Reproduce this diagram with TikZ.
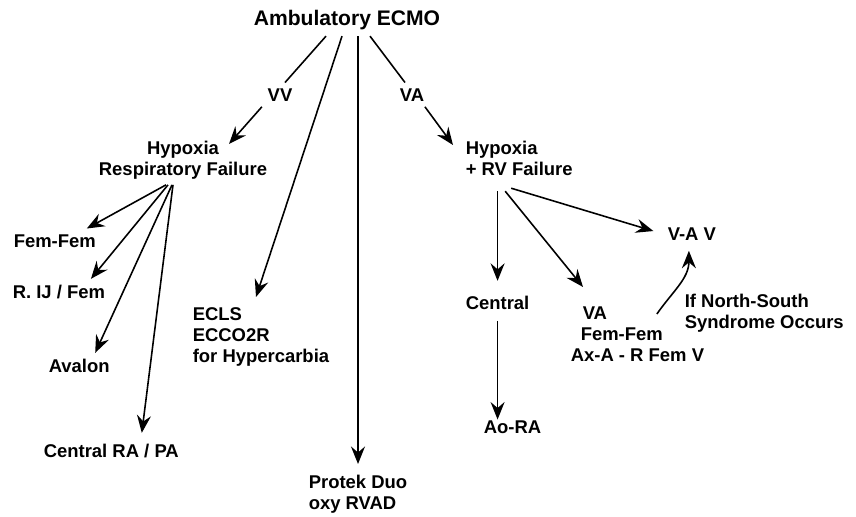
\documentclass[tikz,border=0pt]{standalone}
\usepackage{fontspec}
\setmainfont{Liberation Sans}
\usetikzlibrary{arrows.meta}

\begin{document}
\begin{tikzpicture}[x=0.2mm, y=-0.2mm, line width=0.9pt,
  >={Stealth[length=3.5mm,width=2.8mm,inset=1.2mm]},
  lbl/.style={font=\bfseries\fontsize{10.5}{12}\selectfont, inner sep=1mm},
  ttl/.style={font=\bfseries\fontsize{12}{14}\selectfont, inner sep=1mm}]
\useasboundingbox (0,0) rectangle (856,516);
% labels
\node [ttl, anchor=base] (ecmo) at (347,26) {Ambulatory ECMO};
\node [lbl, anchor=base] (vv) at (280,101) {VV};
\node [lbl, anchor=base] (va) at (412,101) {VA};
\node [lbl, anchor=north, align=center] (hrf) at (183,135) {Hypoxia\\Respiratory Failure};
\node [lbl, anchor=north west, align=left] (hrv) at (460,135) {Hypoxia\\+ RV Failure};
\node [lbl, anchor=base west] (femfem) at (8,247) {Fem-Fem};
\node [lbl, anchor=base west] (rij) at (7,298) {R. IJ / Fem};
\node [lbl, anchor=base west] (avalon) at (43,372) {Avalon};
\node [lbl, anchor=base west] (crapa) at (38,457) {Central RA / PA};
\node [lbl, anchor=north west, align=left] (ecls) at (187,302) {ECLS\\ECCO2R\\for Hypercarbia};
\node [lbl, anchor=north west, align=left] (protek) at (303,469) {Protek Duo\\oxy RVAD};
\node [lbl, anchor=base west] (central) at (460,309) {Central};
\node [lbl, anchor=base west] (aora) at (478,433) {Ao-RA};
\node [lbl, anchor=north west, align=left] (vafem) at (565,301) {\hspace*{2.4mm}VA\\\hspace*{2mm}Fem-Fem\\Ax-A - R Fem V};
\node [lbl, anchor=base west] (vav) at (662,240) {V-A V};
\node [lbl, anchor=north west, align=left] (ns) at (679,288) {If North-South\\Syndrome Occurs};
% VV
\draw ([xshift=-4.2mm]ecmo.south) -- ([xshift=1mm]vv.north);
\draw [->] (vv.south west) -- ([xshift=9.2mm,yshift=-1.8mm]hrf.north);
\draw [->] ([xshift=-3.4mm]hrf.south) -- ([xshift=6.4mm]femfem.north);
\draw [->] ([xshift=-3mm]hrf.south) -- ([xshift=6.4mm]rij.north);
\draw [->] ([xshift=-2.2mm]hrf.south) -- ([xshift=3.2mm]avalon.north);
\draw [->] ([xshift=-2mm]hrf.south) -- ([xshift=6.1mm,yshift=1mm]crapa.north);
% middle
\draw [->] ([xshift=-1mm]ecmo.south) -- ([xshift=-1mm,yshift=1mm]ecls.north);
\draw [->] (ecmo.south -| protek.north) -- ([yshift=1mm]protek.north);
% VA
\draw ([xshift=4.6mm]ecmo.south) -- ([xshift=-1.4mm]va.north);
\draw [->] ([xshift=-1mm]va.south east) -- ([xshift=-1.4mm,yshift=-2mm]hrv.north west);
\draw [->, shorten <=2mm, shorten >=1.8mm] (hrv.south -| central.north) -- (central.north);
\draw [->, shorten <=1.2mm, shorten >=-1mm] (central.south) -- (central.south |- aora.north);
\draw [->] ([xshift=-2.8mm,yshift=-2mm]hrv.south) -- ([xshift=3.6mm,yshift=2.8mm]vafem.north west);
\draw [->, shorten >=1.8mm] ([xshift=-1.6mm,yshift=-1.4mm]hrv.south) -- (vav.west);
\draw [->] ([xshift=-10.6mm,yshift=-2.6mm]vafem.north east) to[out=55, in=-90] ([xshift=-0.6mm,yshift=-1mm]vav.south);
\end{tikzpicture}
\end{document}
